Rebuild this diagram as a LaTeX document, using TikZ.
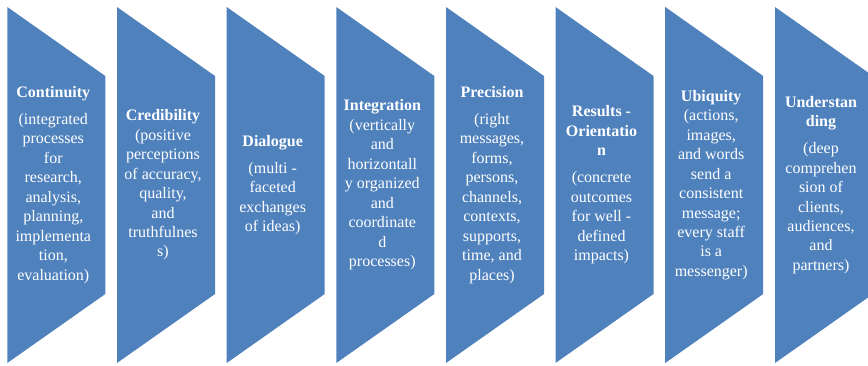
\documentclass[tikz,border=0pt]{standalone}
\usepackage{fontspec}
\setmainfont{Liberation Serif}
\definecolor{chevblue}{HTML}{4F81BD}
\tikzset{
  chev/.style={fill=chevblue},
  lbl/.style={text=white, align=center, inner sep=0pt, font=\fontsize{12}{14.6}\selectfont},
}
\newcommand{\hd}[1]{\textbf{#1}}
\begin{document}
\begin{tikzpicture}[x=0.75pt,y=-0.75pt]
\useasboundingbox (0,0) rectangle (868,365);
\clip (0,0) rectangle (868,365);
\foreach \x/\n in {7.3/1,117/2,226.7/3,336.3/4,446/5,555.5/6,665.2/7,775/8}{
  \fill[chev] (\x,7) -- (\x+98,76) -- (\x+98,294) -- (\x,363) -- cycle;
}
\node[lbl] (t1) at (53.3,185) {\hd{Continuity}\\[5.6pt](integrated\\processes\\for\\research,\\analysis,\\planning,\\implementa\\tion,\\evaluation)};
\node[lbl] (t2) at (163,185) {\hd{Credibility}\\(positive\\perceptions\\of accuracy,\\quality,\\and\\truthfulnes\\s)};
\node[lbl] (t3) at (272.7,185) {\hd{Dialogue}\\[5.6pt](multi -\\faceted\\exchanges\\of ideas)};
\node[lbl] (t4) at (382.3,185) {\hd{Integration}\\(vertically\\and\\horizontall\\y organized\\and\\coordinate\\d\\processes)};
\node[lbl] (t5) at (492,185) {\hd{Precision}\\[5.6pt](right\\messages,\\forms,\\persons,\\channels,\\contexts,\\supports,\\time, and\\places)};
\node[lbl] (t6) at (601.5,185) {\hd{Results -}\\\hd{Orientatio}\\\hd{n}\\[5.6pt](concrete\\outcomes\\for well -\\defined\\impacts)};
\node[lbl] (t7) at (711.2,185) {\hd{Ubiquity}\\(actions,\\images,\\and words\\send a\\consistent\\message;\\every staff\\is a\\messenger)};
\node[lbl] (t8) at (821,185) {\hd{Understan}\\\hd{ding}\\[5.6pt](deep\\comprehen\\sion of\\clients,\\audiences,\\and\\partners)};
\end{tikzpicture}
\end{document}
